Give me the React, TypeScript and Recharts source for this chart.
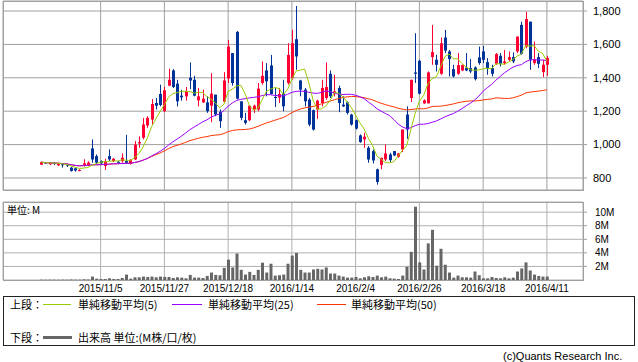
import React from 'react';
import { Bar, CartesianGrid, ComposedChart, Line, XAxis, YAxis } from 'recharts';

// trading days shown (2015/10/15 - 2016/4/11)
const tradingDays: [string, number[]][] = [
  ['2015/10', [15, 16, 19, 20, 21, 22, 23, 26, 27, 28, 29, 30]],
  ['2015/11', [2, 4, 5, 6, 9, 10, 11, 12, 13, 16, 17, 18, 19, 20, 24, 25, 26, 27, 30]],
  ['2015/12', [1, 2, 3, 4, 7, 8, 9, 10, 11, 14, 15, 16, 17, 18, 21, 22, 24, 25, 28, 29, 30]],
  ['2016/1', [4, 5, 6, 7, 8, 12, 13, 14, 15, 18, 19, 20, 21, 22, 25, 26, 27, 28, 29]],
  ['2016/2', [1, 2, 3, 4, 5, 8, 9, 10, 12, 15, 16, 17, 18, 19, 22, 23, 24, 25, 26, 29]],
  ['2016/3', [1, 2, 3, 4, 7, 8, 9, 10, 11, 14, 15, 16, 17, 18, 22, 23, 24, 25, 28, 29, 30, 31]],
  ['2016/4', [1, 4, 5, 6, 7, 8, 11]],
];
const dates = tradingDays.flatMap(([m, ds]) => ds.map((d) => `${m}/${d}`));

const tickDates = ['2015/11/5', '2015/11/27', '2015/12/18', '2016/1/14', '2016/2/4', '2016/2/26', '2016/3/18', '2016/4/11'];
const priceTicks = [800, 1000, 1200, 1400, 1600, 1800];
const volTicks = [2, 4, 6, 8, 10];

const open = [
  880, 893, 882, 890, 876, 882, 880, 862, 858, 843, 872, 875, 977, 931, 901, 872, 931, 901, 897, 901,
  901, 884, 911, 1007, 1041, 1114, 1150, 1249, 1303, 1200, 1353, 1444, 1365, 1293, 1289, 1400, 1388, 1265, 1253, 1253,
  1233, 1299, 1196, 1257, 1396, 1548, 1675, 1259, 1146, 1146, 1210, 1210, 1369, 1444, 1474, 1285, 1281, 1305, 1369, 1398,
  1631, 1384, 1329, 1269, 1206, 1210, 1249, 1279, 1424, 1309, 1339, 1239, 1253, 1180, 1146, 1055, 1031, 981, 961, 852,
  878, 911, 941, 961, 927, 971, 1180, 1279, 1432, 1502, 1247, 1247, 1524, 1508, 1424, 1641, 1558, 1452, 1424, 1444,
  1460, 1458, 1462, 1522, 1558, 1494, 1458, 1484, 1532, 1488, 1508, 1524, 1558, 1717, 1587, 1736, 1488, 1524, 1434, 1478,
];
const high = [
  898, 896, 896, 893, 890, 884, 884, 866, 862, 852, 912, 900, 1031, 941, 905, 915, 971, 920, 900, 947,
  1058, 912, 1021, 1050, 1160, 1170, 1273, 1279, 1359, 1345, 1454, 1452, 1388, 1329, 1345, 1492, 1412, 1339, 1329, 1289,
  1428, 1299, 1210, 1434, 1627, 1548, 1680, 1259, 1190, 1233, 1239, 1369, 1498, 1488, 1537, 1339, 1339, 1388, 1607, 1687,
  1830, 1388, 1339, 1279, 1210, 1269, 1388, 1492, 1444, 1418, 1353, 1289, 1259, 1184, 1150, 1061, 1070, 991, 971, 856,
  921, 1001, 951, 961, 951, 1090, 1229, 1388, 1667, 1508, 1271, 1438, 1717, 1538, 1641, 1687, 1567, 1478, 1548, 1480,
  1548, 1512, 1468, 1587, 1591, 1518, 1478, 1548, 1548, 1567, 1558, 1552, 1647, 1736, 1796, 1736, 1617, 1548, 1508, 1532,
];
const low = [
  878, 885, 878, 878, 872, 862, 866, 838, 838, 840, 868, 872, 891, 882, 884, 848, 901, 896, 890, 891,
  889, 880, 908, 981, 1031, 1100, 1120, 1210, 1229, 1195, 1350, 1339, 1229, 1263, 1263, 1333, 1289, 1229, 1249, 1190,
  1134, 1170, 1100, 1249, 1369, 1353, 1270, 1146, 1120, 1140, 1190, 1200, 1359, 1289, 1299, 1225, 1249, 1200, 1359, 1388,
  1448, 1289, 1229, 1110, 1084, 1154, 1229, 1269, 1279, 1289, 1194, 1225, 1180, 1114, 1090, 1011, 981, 891, 887, 760,
  852, 901, 891, 931, 921, 955, 1035, 1255, 1369, 1300, 1245, 1247, 1478, 1438, 1418, 1548, 1408, 1402, 1418, 1440,
  1440, 1428, 1384, 1478, 1488, 1418, 1408, 1478, 1468, 1478, 1498, 1488, 1548, 1538, 1577, 1448, 1478, 1458, 1404, 1412,
];
const close = [
  895, 888, 890, 884, 885, 876, 874, 842, 845, 848, 888, 892, 911, 892, 888, 901, 911, 915, 894, 921,
  891, 907, 999, 1015, 1120, 1160, 1243, 1233, 1237, 1325, 1388, 1345, 1259, 1283, 1319, 1384, 1293, 1289, 1275, 1200,
  1305, 1180, 1140, 1384, 1587, 1369, 1275, 1160, 1130, 1233, 1233, 1335, 1412, 1379, 1303, 1281, 1303, 1229, 1537, 1607,
  1528, 1329, 1259, 1120, 1090, 1263, 1339, 1345, 1289, 1319, 1249, 1229, 1190, 1120, 1096, 1015, 1047, 911, 905, 776,
  921, 947, 907, 935, 947, 1090, 1090, 1388, 1424, 1305, 1265, 1432, 1554, 1478, 1607, 1563, 1512, 1408, 1476, 1476,
  1444, 1438, 1392, 1488, 1508, 1458, 1424, 1542, 1484, 1498, 1524, 1498, 1647, 1544, 1752, 1508, 1508, 1484, 1478, 1518,
];
// volume in millions
const volume = [
  0.05, 0.04, 0.06, 0.05, 0.04, 0.06, 0.05, 0.08, 0.06, 0.05, 0.1, 0.08, 0.5, 0.2, 0.15, 0.15, 0.25, 0.15, 0.15, 0.3,
  0.8, 0.2, 0.4, 0.4, 0.5, 0.45, 0.5, 0.4, 0.5, 0.45, 0.45, 0.3, 0.4, 0.35, 0.25, 0.75, 0.35, 0.35, 0.3, 0.6,
  1.1, 0.75, 0.7, 1.8, 3.0, 1.85, 3.9, 1.5, 0.8, 1.2, 0.75, 1.5, 2.55, 1.1, 2.4, 0.65, 0.7, 0.8, 2.4, 3.6,
  4.0, 1.5, 1.1, 1.1, 1.55, 1.65, 1.55, 1.85, 0.95, 0.95, 0.65, 0.5, 0.35, 0.35, 0.45, 0.25, 0.4, 0.55, 0.45, 0.65,
  0.4, 0.5, 0.25, 0.2, 0.15, 0.65, 1.95, 4.15, 10.8, 2.6, 1.55, 5.4, 7.4, 2.1, 4.6, 2.25, 1.1, 0.35, 0.65, 0.4,
  0.4, 0.35, 1.25, 0.7, 0.25, 0.25, 0.45, 0.3, 0.25, 0.4, 0.25, 0.35, 1.25, 1.7, 2.6, 1.4, 0.8, 0.6, 0.5, 0.5,
];

const RED = '#ff0033';
const BLUE = '#003399';
const MA5 = '#99cc00';
const MA25 = '#9900ff';
const MA50 = '#ff3300';
const GRID = '#a0a0a0';
const LATIN = '"Liberation Sans", Arial, sans-serif';
const JP = '"Noto Sans CJK JP", "Liberation Sans", sans-serif';

// simple moving average over the closes shown
const sma = (vals: number[], n: number) =>
  vals.map((_, i) => {
    const s = vals.slice(Math.max(0, i - n + 1), i + 1);
    return s.reduce((a, b) => a + b, 0) / s.length;
  });

const ma5 = sma(close, 5);
const ma25 = sma(close, 25);
const ma50 = sma(close, 50);

const data = dates.map((date, i) => ({
  date,
  open: open[i],
  high: high[i],
  low: low[i],
  close: close[i],
  range: [low[i], high[i]],
  ma5: ma5[i],
  ma25: ma25[i],
  ma50: ma50[i],
  vol: volume[i],
}));

const Candle = (props: any) => {
  const { x, y, width, height, payload } = props;
  if (x == null || y == null) return null;
  const { open: o, close: c, high: h, low: l } = payload;
  const color = c >= o ? RED : BLUE;
  const top = Math.min(y, y + height);
  const hgt = Math.abs(height);
  const span = h - l;
  const toY = (p: number) => (span === 0 ? top : top + ((h - p) / span) * hgt);
  const cx = Math.floor(x + width / 2) + 0.5;
  const bTop = toY(Math.max(o, c));
  const bBot = toY(Math.min(o, c));
  return (
    <g>
      <line x1={cx} x2={cx} y1={top} y2={top + hgt} stroke={color} strokeWidth={1} />
      <rect x={cx - 1.5} y={bTop} width={3} height={Math.max(1, bBot - bTop)} fill={color} />
    </g>
  );
};

const frame = (left: number, top: number, width: number, height: number, color = GRID) => (
  <div
    style={{
      position: 'absolute',
      left,
      top,
      width,
      height,
      border: `1px solid ${color}`,
      boxSizing: 'border-box',
      pointerEvents: 'none',
    }}
  />
);

const txt = (left: number, top: number, s: string, extra: React.CSSProperties = {}) => (
  <div
    style={{
      position: 'absolute',
      left,
      top,
      fontSize: 11,
      lineHeight: '14px',
      fontFamily: JP,
      color: '#000',
      whiteSpace: 'nowrap',
      ...extra,
    }}
  >
    {s}
  </div>
);

const swatch = (left: number, top: number, width: number, height: number, color: string) => (
  <div style={{ position: 'absolute', left, top, width, height, background: color }} />
);

const xPad = { left: 36, right: 34 };

export default function App() {
  return (
    <div
      style={{
        position: 'absolute',
        left: 0,
        top: 0,
        width: 638,
        height: 362,
        background: '#fff',
        overflow: 'hidden',
      }}
    >
      <div style={{ position: 'absolute', left: 0, top: 0 }}>
        <ComposedChart width={638} height={192} data={data} margin={{ top: 1, right: 0, bottom: 2, left: 3 }}>
          <CartesianGrid stroke={GRID} />
          <XAxis dataKey="date" type="category" ticks={tickDates} interval={0} padding={xPad} hide />
          <YAxis
            orientation="right"
            width={55}
            domain={[728, 1860]}
            ticks={priceTicks}
            interval={0}
            axisLine={false}
            tickSize={4}
            tickMargin={6}
            tickLine={{ stroke: GRID }}
            tick={{ fontSize: 11, fill: '#000', fontFamily: LATIN, textAnchor: 'start' }}
            tickFormatter={(v: number) => v.toLocaleString('en-US')}
            allowDataOverflow
          />
          <Line dataKey="ma50" type="linear" stroke={MA50} strokeWidth={1} dot={false} isAnimationActive={false} />
          <Line dataKey="ma25" type="linear" stroke={MA25} strokeWidth={1} dot={false} isAnimationActive={false} />
          <Bar dataKey="range" barSize={3} shape={(p: any) => <Candle {...p} />} isAnimationActive={false} />
          <Line dataKey="ma5" type="linear" stroke={MA5} strokeWidth={1} dot={false} isAnimationActive={false} />
        </ComposedChart>
      </div>
      {frame(3, 1, 581, 190)}

      <div style={{ position: 'absolute', left: 0, top: 200 }}>
        <ComposedChart width={638} height={96} data={data} margin={{ top: 2, right: 0, bottom: 0, left: 3 }}>
          <CartesianGrid stroke="#b0b0b0" />
          <XAxis
            dataKey="date"
            type="category"
            ticks={tickDates}
            interval={0}
            padding={xPad}
            height={16}
            axisLine={false}
            tickLine={false}
            tickSize={0}
            tickMargin={5}
            tick={{ fontSize: 10, fill: '#000', fontFamily: LATIN }}
          />
          <YAxis
            orientation="right"
            width={55}
            domain={[0, 11.5]}
            ticks={volTicks}
            interval={0}
            axisLine={false}
            tickSize={4}
            tickMargin={8}
            tickLine={{ stroke: GRID }}
            tick={{ fontSize: 10, fill: '#000', fontFamily: LATIN, textAnchor: 'start' }}
            tickFormatter={(v: number) => `${v}M`}
          />
          <Bar dataKey="vol" barSize={3} fill="#666666" isAnimationActive={false} />
        </ComposedChart>
      </div>
      {frame(3, 202, 581, 79)}
      {txt(7, 204, '単位: M', { fontSize: 10, lineHeight: '12px' })}

      {frame(3, 296, 632, 50, '#222')}
      {txt(10, 297, '上段：')}
      {swatch(43, 304, 28, 1, MA5)}
      {txt(78, 297, '単純移動平均(5)')}
      {swatch(172, 304, 30, 1, MA25)}
      {txt(208, 297, '単純移動平均(25)')}
      {swatch(317, 304, 29, 1, MA50)}
      {txt(351, 297, '単純移動平均(50)')}
      {txt(10, 330, '下段：')}
      {swatch(43, 336, 29, 3, '#666666')}
      {txt(78, 330, '出来高 単位:(M株/口/枚)')}
      {txt(503, 349, '(c)Quants Research Inc.', { fontFamily: LATIN })}
    </div>
  );
}
